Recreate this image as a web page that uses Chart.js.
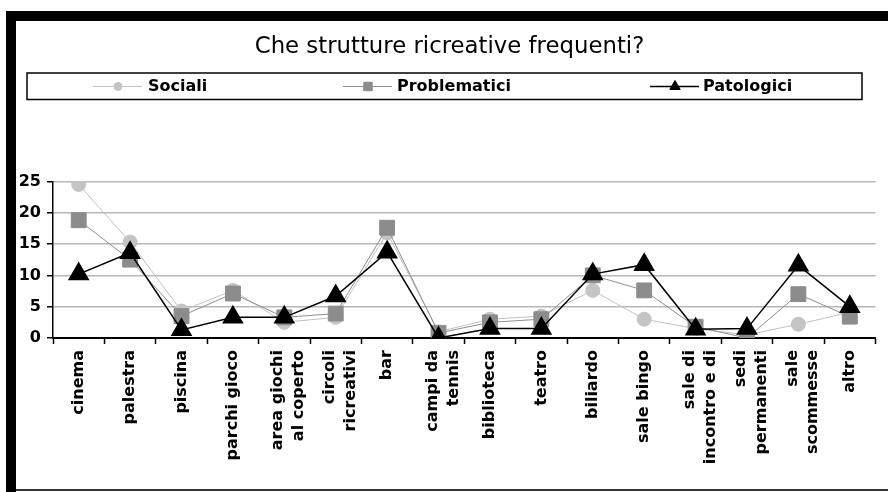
<!DOCTYPE html>
<html lang="it">
<head>
<meta charset="UTF-8">
<title>Che strutture ricreative frequenti?</title>
<script src="https://cdn.jsdelivr.net/npm/chart.js"></script>
<style>
  html, body { margin: 0; padding: 0; background: #fff; }
  #wrap { width: 888px; height: 492px; }
</style>
</head>
<body>
<div id="wrap"><canvas id="chart" width="888" height="492"></canvas></div>
<script>
// categories and values
const categories = [
  'cinema', 'palestra', 'piscina', 'parchi gioco',
  ['area giochi', 'al coperto'], ['circoli', 'ricreativi'], 'bar',
  ['campi da', 'tennis'], 'biblioteca', 'teatro', 'biliardo', 'sale bingo',
  ['sale di', 'incontro e di'], ['sedi', 'permanenti'], ['sale', 'scommesse'], 'altro'
];
const sociali      = [24.5, 15.3, 4.3, 7.6, 2.5, 3.3, 16.8, 1.0, 3.0, 3.5, 7.6, 3.0, 1.5, 0.5, 2.2, 4.1];
const problematici = [18.8, 12.5, 3.5, 7.1, 3.3, 3.9, 17.6, 0.8, 2.5, 3.0, 10.0, 7.6, 1.8, 0.0, 7.0, 3.4];
const patologici   = [10.2, 13.6, 1.3, 3.3, 3.3, 6.7, 13.7, 0.0, 1.5, 1.5, 10.2, 11.7, 1.4, 1.5, 11.6, 5.0];
const yTicks = [0, 5, 10, 15, 20, 25];

Chart.defaults.font.family = "'DejaVu Sans', sans-serif";
Chart.defaults.color = '#000';

// black frame like the scanned original
const framePlugin = {
  id: 'frame',
  beforeDraw(chart) {
    const c = chart.ctx;
    c.save();
    c.fillStyle = '#fff';
    c.fillRect(0, 0, chart.width, chart.height);
    c.fillStyle = '#000';
    c.fillRect(6, 11, chart.width - 6, 10);
    c.fillRect(6, 11, 10, chart.height - 11);
    c.fillStyle = '#333';
    c.fillRect(16, 489, chart.width - 16, 2);
    c.restore();

    // two-line category labels sit a bit left of the tick centre
    chart.scales.x.getLabelItems().forEach(item => {
      if (Array.isArray(item.label) && !item._moved) {
        item.options.translation[0] -= 6;
        item._moved = true;
      }
    });
  }
};

// boxed legend with line + marker samples
const boxLegend = {
  id: 'boxLegend',
  afterDraw(chart) {
    const c = chart.ctx;
    const items = [{ x: 93, tx: 148 }, { x: 343, tx: 397 }, { x: 650, tx: 703 }];
    const y = 86.5;
    c.save();
    c.strokeStyle = '#000';
    c.lineWidth = 1.5;
    c.strokeRect(27, 73, 835, 26.5);
    chart.data.datasets.forEach((ds, i) => {
      const it = items[i];
      c.strokeStyle = ds.borderColor;
      c.lineWidth = ds.borderWidth;
      c.beginPath();
      c.moveTo(it.x, y);
      c.lineTo(it.x + 49, y);
      c.stroke();
      c.fillStyle = ds.pointBackgroundColor;
      c.strokeStyle = ds.pointBorderColor;
      c.lineWidth = 1;
      Chart.helpers.drawPoint(c, {
        pointStyle: ds.pointStyle,
        radius: ds.pointStyle === 'triangle' ? 6 : (ds.pointStyle === 'rect' ? 6 : 4),
        borderWidth: 1
      }, it.x + 25, y);
      c.font = "bold 16px 'DejaVu Sans', sans-serif";
      c.fillStyle = '#000';
      c.textBaseline = 'middle';
      c.fillText(ds.label, it.tx, y);
    });
    c.restore();
  }
};

new Chart(document.getElementById('chart'), {
  type: 'line',
  data: {
    labels: categories,
    datasets: [
      {
        label: 'Sociali', data: sociali, order: 3,
        borderColor: '#c2c2c2', borderWidth: 1,
        pointStyle: 'circle', pointRadius: 7,
        pointBackgroundColor: '#c4c4c4', pointBorderColor: '#c4c4c4'
      },
      {
        label: 'Problematici', data: problematici, order: 2,
        borderColor: '#8e8e8e', borderWidth: 1,
        pointStyle: 'rect', pointRadius: 10.5,
        pointBackgroundColor: '#8c8c8c', pointBorderColor: '#8c8c8c'
      },
      {
        label: 'Patologici', data: patologici, order: 1,
        borderColor: '#000', borderWidth: 1.5,
        pointStyle: 'triangle', pointRadius: 11,
        pointBackgroundColor: '#000', pointBorderColor: '#000'
      }
    ]
  },
  options: {
    responsive: false,
    animation: false,
    layout: { padding: { left: 17, right: 6, top: 22, bottom: 0 } },
    plugins: {
      legend: { display: false },
      tooltip: { enabled: false },
      title: {
        display: true,
        text: 'Che strutture ricreative frequenti?',
        color: '#000',
        font: { size: 22.8, weight: 'normal' },
        padding: { top: 11, bottom: 121 }
      }
    },
    scales: {
      x: {
        offset: true,
        grid: { offset: true, drawOnChartArea: false, tickLength: 6, tickColor: '#000', tickWidth: 1.5 },
        border: { color: '#000', width: 2 },
        ticks: {
          autoSkip: false, minRotation: 90, maxRotation: 90, padding: 6,
          font: { size: 16, weight: 'bold', lineHeight: 1.3 }, color: '#000'
        },
        afterFit(scale) { scale.height = 154; }
      },
      y: {
        min: 0, max: 25,
        afterBuildTicks(scale) { scale.ticks = yTicks.map(v => ({ value: v })); },
        grid: { color: '#b8b8b8', lineWidth: 1.5, tickLength: 6, tickColor: '#000', tickWidth: 1.5 },
        border: { color: '#000', width: 1.5 },
        ticks: { padding: 6, font: { size: 16, weight: 'bold' }, color: '#000' },
        afterFit(scale) { scale.width = 36; }
      }
    }
  },
  plugins: [framePlugin, boxLegend]
});
</script>
</body>
</html>
